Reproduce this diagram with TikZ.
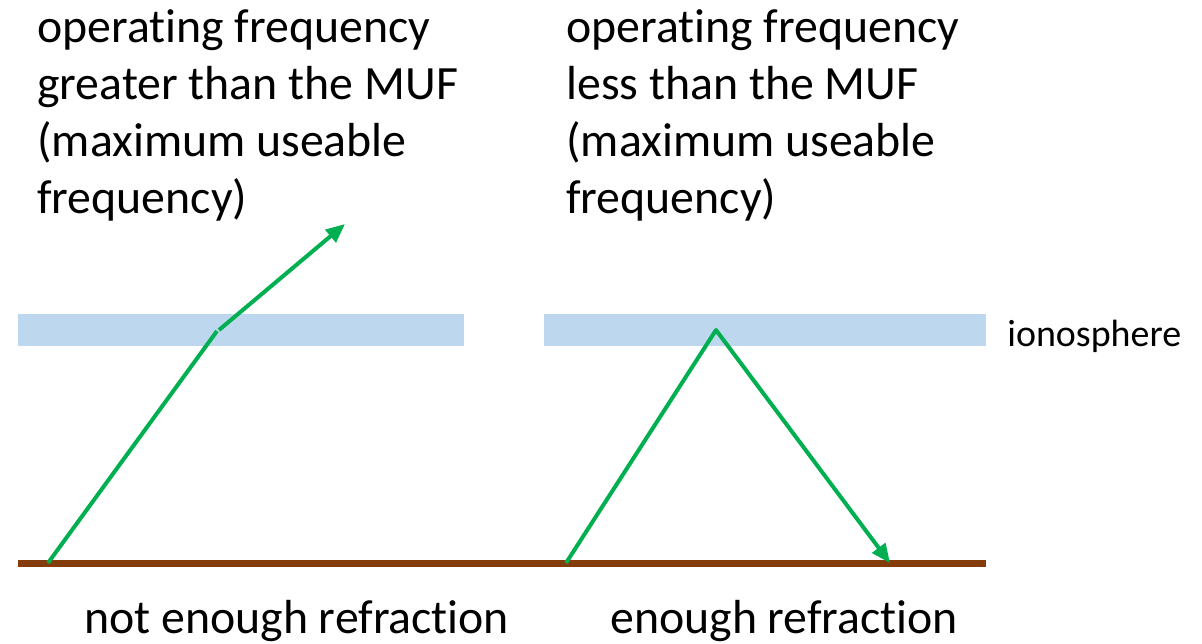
\documentclass[tikz,border=0pt]{standalone}
\usepackage{fontspec}
\setmainfont{Carlito}[Ligatures=NoCommon]
\usetikzlibrary{arrows.meta}
\definecolor{bandblue}{HTML}{BDD7EE}
\definecolor{groundbrown}{HTML}{843C0C}
\definecolor{raygreen}{HTML}{00B050}

\begin{document}
\begin{tikzpicture}[
    x=0.02cm, y=-0.02cm,
    layer/.style={fill=bandblue, draw=none, inner sep=0pt, minimum height=0.64cm, anchor=north west},
    ground/.style={draw=groundbrown, line width=0.14cm},
    ray/.style={draw=raygreen, line width=0.08cm, line join=round},
    raytip/.style={ray, -{Triangle[length=0.38cm,width=0.32cm]}},
    caption/.style={font=\fontsize{27.2}{32.4}\selectfont, align=left, inner sep=0pt, anchor=base west},
    tag/.style={font=\fontsize{21.6}{25}\selectfont, inner sep=0pt, anchor=base west}
  ]
    \useasboundingbox (0,0) rectangle (1202,643);

    % Ionosphere bands and ground.
    \node[layer, minimum width=8.92cm] (band1) at (18,314) {};
    \node[layer, minimum width=8.84cm] (band2) at (544,314) {};
    \node[tag] (iono) at (1007,346) {ionosphere};
    \coordinate (groundW) at (18,563);
    \coordinate (groundE) at (986,563);
    \draw[ground] (groundW) -- (groundE);

    % Ray passing through.
    \coordinate (tx1) at (48,563);
    \coordinate (kink1) at (217,331);
    \coordinate (kink1b) at (219,330);
    \coordinate (out1) at (345,224);
    \draw[ray] (tx1) -- (kink1);
    \draw[raytip] (kink1b) -- (out1);

    % Ray bent back to the ground.
    \coordinate (tx2) at (566,563);
    \coordinate (apex) at (716,330);
    \coordinate (rx2) at (890,563);
    \draw[raytip] (tx2) -- (apex) -- (rx2);

    % Captions (base is the last line).
    \node[caption] (leftcap) at (37,213) {operating frequency\\greater than the MUF\\(maximum useable\\frequency)};
    \node[caption] (rightcap) at (566,213) {operating frequency\\less than the MUF\\(maximum useable\\frequency)};
    \node[caption] (leftnote) at (84,633) {not enough refraction};
    \node[caption] (rightnote) at (610,633) {enough refraction};
  \end{tikzpicture}
\end{document}
